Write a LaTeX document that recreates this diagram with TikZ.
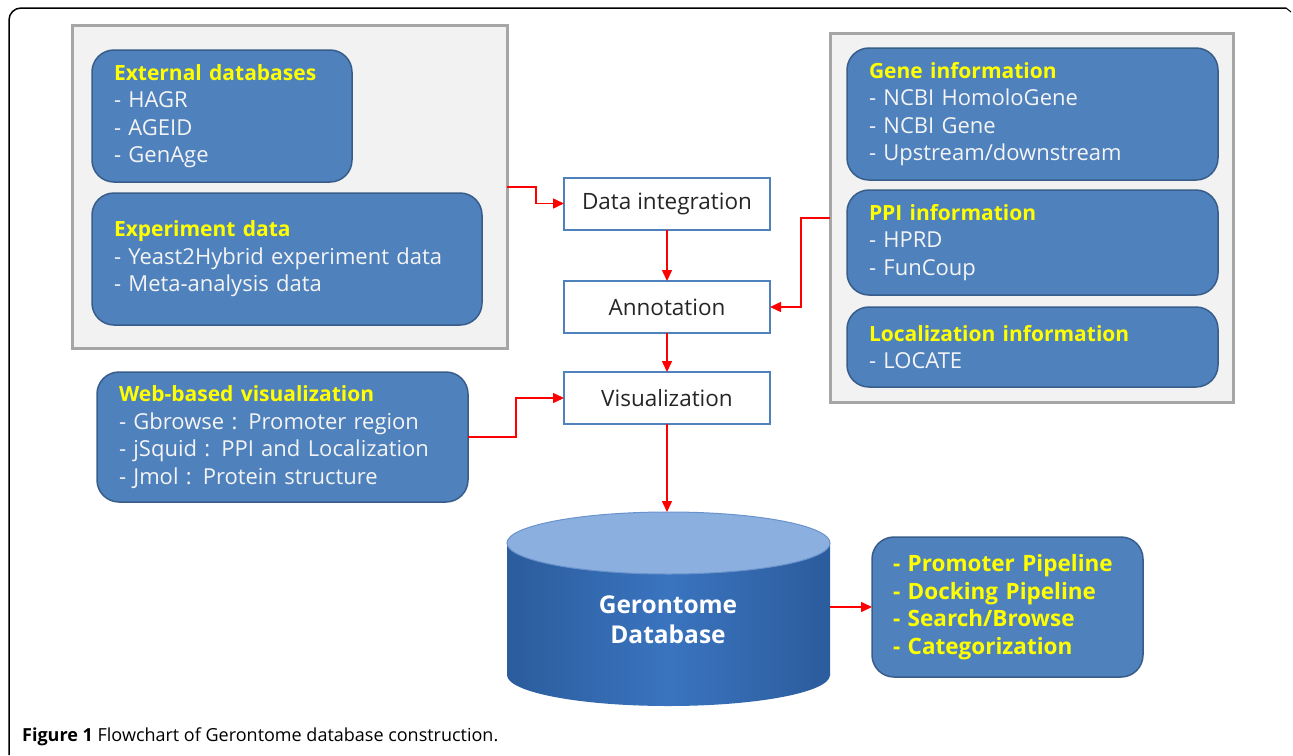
\documentclass[tikz,border=0pt]{standalone}
\usepackage{fontspec}
\setmainfont{Open Sans}
\usetikzlibrary{arrows.meta,calc}
\definecolor{boxblue}{HTML}{4F81BD}
\definecolor{boxedge}{HTML}{385D8A}
\definecolor{panelgray}{HTML}{F2F2F2}
\definecolor{paneledge}{HTML}{A6A6A6}
\definecolor{ttl}{HTML}{FFFF00}
\definecolor{bodytxt}{HTML}{F4F4F4}
\definecolor{arrred}{HTML}{FF0000}
\definecolor{cylside}{HTML}{2B5C9C}
\definecolor{cylmid}{HTML}{3A74BF}
\definecolor{cyltop}{HTML}{8BB0E0}
\definecolor{cyltopedge}{HTML}{6A93CC}
\definecolor{flowtxt}{HTML}{262626}
\newcommand{\ttlx}[1]{{\fontsize{21}{27.5}\selectfont\bfseries\color{ttl}#1}}
\begin{document}
\begin{tikzpicture}[x=1pt,y=-1pt,
  panelbox/.style={draw=paneledge, fill=panelgray, line width=3pt, inner sep=0pt, outer sep=0pt},
  infobox/.style={draw=boxedge, fill=boxblue, line width=1.5pt, rounded corners=22pt,
    text=bodytxt, align=left, inner xsep=22pt, inner ysep=0pt, outer sep=0pt,
    font=\fontsize{22}{27.5}\selectfont},
  flowbox/.style={draw=boxblue, fill=white, line width=2pt, minimum width=206pt,
    minimum height=52pt, inner sep=0pt, outer sep=0pt, text=flowtxt,
    font=\fontsize{22.5}{26}\selectfont},
  arr/.style={draw=arrred, line width=1.5pt, -{Triangle[length=11pt,width=10pt]}},
]
\useasboundingbox (0,0) rectangle (1293,755);

% outer frame
\draw[line width=1.5pt, rounded corners=12pt] (9,755) -- (9,8) -- (1286,8);
\draw[line width=1pt] (1286,8) -- (1291,12);

% left panel
\node[panelbox, minimum width=435pt, minimum height=323pt] (lp) at (289.5,186.5) {};
\node[infobox, text width=216pt, minimum height=132pt] (ext) at (222,116)
  {\ttlx{External databases}\\- HAGR\\- AGEID\\- GenAge};
\node[infobox, text width=346pt, minimum height=132pt] (exp) at (287,259)
  {\ttlx{Experiment data}\\- Yeast2Hybrid experiment data\\- Meta-analysis data};

% right panel
\node[panelbox, minimum width=403pt, minimum height=369pt] (rp) at (1031.5,217.5) {};
\node[infobox, text width=327pt, minimum height=132pt] (gene) at (1032.5,114)
  {\ttlx{Gene information}\\- NCBI HomoloGene\\- NCBI Gene\\- Upstream/downstream};
\node[infobox, text width=327pt, minimum height=105pt] (ppi) at (1032.5,242.5)
  {\ttlx{PPI information}\\- HPRD\\- FunCoup};
\node[infobox, text width=327pt, minimum height=80pt] (loc) at (1032.5,347)
  {\ttlx{Localization information}\\- LOCATE};

% web box
\node[infobox, text width=327pt, minimum height=130pt] (web) at (282.5,437)
  {\ttlx{Web-based visualization}\\- Gbrowse : Promoter region\\- jSquid : PPI and Localization\\- Jmol : Protein structure};

% pipeline box
\node[infobox, text width=229pt, inner xsep=21pt, minimum height=140pt, text=ttl,
  font=\fontsize{22.5}{27.5}\selectfont\bfseries] (pipe) at (1007.5,607)
  {- Promoter Pipeline\\- Docking Pipeline\\- Search/Browse\\- Categorization};

% flow boxes
\node[flowbox] (di) at (667,203.5) {Data integration};
\node[flowbox] (ann) at (667,307) {Annotation};
\node[flowbox] (vis) at (667,398) {Visualization};

% cylinder
\shade[left color=cylside, right color=cylside, middle color=cylmid]
  (507,543) rectangle (830,675);
\shade[left color=cylside, right color=cylside, middle color=cylmid]
  (668.5,675) ellipse[x radius=161.5, y radius=31];
\fill[cyltop, draw=cyltopedge, line width=1pt] (668.5,543) ellipse[x radius=161.5, y radius=31];
\coordinate (dbtop) at (667,512);
\coordinate (dbright) at (830,607);
\node[text=white, align=center, font=\fontsize{24.5}{30}\selectfont\bfseries] (db) at (668,620)
  {Gerontome\\Database};

% connectors
\coordinate (lpout) at (507,187);
\coordinate (rpout) at (830,218);
\draw[arr] (lpout) -| ([xshift=-28pt]di.west) -- (di.west);
\draw[arr] (di.south) -- (ann.north);
\draw[arr] (rpout) -| ([xshift=31pt]ann.east) -- (ann.east);
\draw[arr] (ann.south) -- (vis.north);
\draw[arr] (web.east) -| ([xshift=-48pt]vis.west) -- (vis.west);
\draw[arr] (vis.south) -- (dbtop);
\draw[arr] (dbright) -- (pipe.west);

% caption
\node[anchor=base west, inner sep=0pt, font=\fontsize{18}{20}\selectfont] (cap) at (22,741)
  {\textbf{Figure 1} Flowchart of Gerontome database construction.};
\end{tikzpicture}
\end{document}
